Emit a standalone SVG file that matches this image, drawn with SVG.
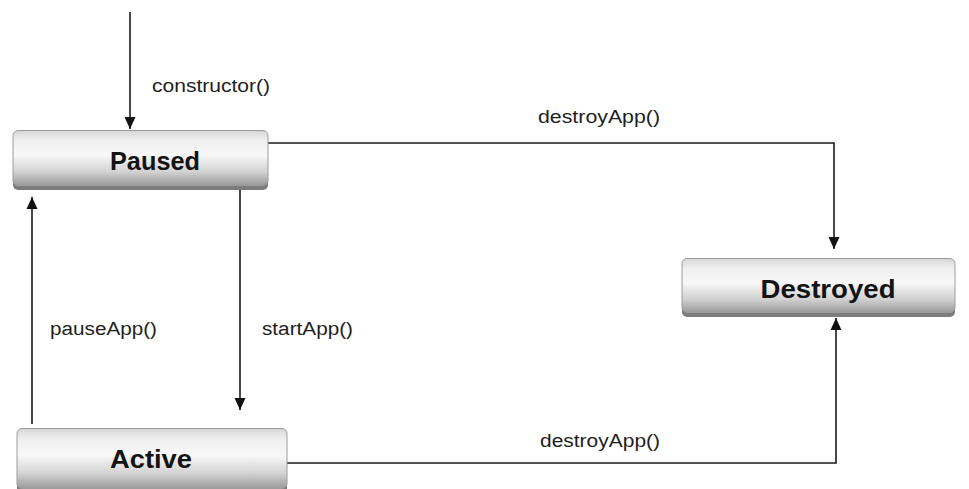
<svg xmlns="http://www.w3.org/2000/svg" width="969" height="489" viewBox="0 0 969 489">
  <style>
    .lbl { font-family: "Liberation Sans", Arial, sans-serif; font-size: 18px; fill: #1e1e1e; }
    .name { font-family: "Liberation Sans", Arial, sans-serif; font-size: 26px; font-weight: bold; fill: #141414; text-anchor: middle; }
    .box { fill: url(#boxFill); stroke: #9c9c9c; stroke-width: 1; }
    .shade { fill: #7c7c7c; }
    .wire { fill: none; stroke: #1a1a1a; stroke-width: 1.6; marker-end: url(#head); }
  </style>
  <defs>
    <linearGradient id="boxFill" x1="0" y1="0" x2="0" y2="1">
      <stop offset="0" stop-color="#d6d6d6"/>
      <stop offset="0.18" stop-color="#efefef"/>
      <stop offset="0.45" stop-color="#f8f8f8"/>
      <stop offset="0.75" stop-color="#d2d2d2"/>
      <stop offset="1" stop-color="#9a9a9a"/>
    </linearGradient>
    <marker id="head" markerUnits="userSpaceOnUse" markerWidth="14" markerHeight="14" viewBox="0 0 14 14" refX="13" refY="7" orient="auto">
      <path d="M1,1.5 L13,7 L1,12.5 Z" fill="#111"/>
    </marker>
  </defs>

  <rect width="969" height="489" fill="#ffffff"/>

  <!-- transitions -->
  <g id="connectors">
    <path class="wire" d="M130,12 L130,129"/>
    <path class="wire" d="M240,184 L240,410"/>
    <path class="wire" d="M32,424 L32,197"/>
    <path class="wire" d="M268,143 L834,143 L834,249"/>
    <path class="wire" d="M287,463 L836,463 L836,318"/>
    <text class="lbl" x="152" y="92" textLength="118" lengthAdjust="spacingAndGlyphs">constructor()</text>
    <text class="lbl" x="262" y="335" textLength="91" lengthAdjust="spacingAndGlyphs">startApp()</text>
    <text class="lbl" x="50" y="335" textLength="107" lengthAdjust="spacingAndGlyphs">pauseApp()</text>
    <text class="lbl" x="538" y="123" textLength="122" lengthAdjust="spacingAndGlyphs">destroyApp()</text>
    <text class="lbl" x="540" y="447" textLength="120" lengthAdjust="spacingAndGlyphs">destroyApp()</text>
  </g>

  <!-- states -->
  <g id="paused">
    <rect class="shade" x="13" y="133" width="255" height="57" rx="5"/>
    <rect class="box" x="13" y="130.5" width="255" height="55" rx="5"/>
    <text class="name" x="155" y="170" textLength="90" lengthAdjust="spacingAndGlyphs">Paused</text>
  </g>

  <g id="destroyed">
    <rect class="shade" x="682" y="261" width="273" height="56" rx="5"/>
    <rect class="box" x="682" y="258.5" width="273" height="54" rx="5"/>
    <text class="name" x="828" y="298" textLength="135" lengthAdjust="spacingAndGlyphs">Destroyed</text>
  </g>

  <g id="active">
    <rect class="shade" x="17" y="431" width="270" height="62" rx="5"/>
    <rect class="box" x="17" y="428.5" width="270" height="60" rx="5"/>
    <text class="name" x="151" y="468" textLength="82" lengthAdjust="spacingAndGlyphs">Active</text>
  </g>
</svg>
